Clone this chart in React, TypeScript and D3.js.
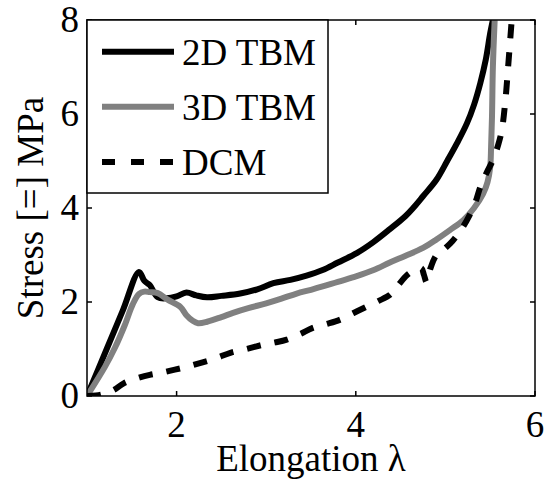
import React from "react";
import * as d3 from "d3";

// Stress–elongation curves for three models
const lambda2D = [1.0, 1.22, 1.4, 1.58, 1.64, 1.7, 1.79, 1.89, 2.0, 2.11, 2.22, 2.34, 2.5, 2.71, 2.9, 3.08, 3.27, 3.45, 3.63, 3.8, 4.01, 4.2, 4.38, 4.55, 4.64, 4.75, 4.9, 5.02, 5.13, 5.24, 5.32, 5.39, 5.45, 5.5, 5.53];
const stress2D = [0, 1.0, 1.82, 2.64, 2.45, 2.36, 2.1, 2.08, 2.12, 2.2, 2.14, 2.1, 2.13, 2.18, 2.27, 2.4, 2.47, 2.56, 2.68, 2.84, 3.04, 3.28, 3.55, 3.82, 4.0, 4.25, 4.6, 5.0, 5.38, 5.8, 6.2, 6.66, 7.15, 7.72, 8.0];

const lambda3D = [1.0, 1.2, 1.31, 1.42, 1.51, 1.58, 1.64, 1.7, 1.79, 1.9, 2.04, 2.11, 2.18, 2.24, 2.34, 2.5, 2.63, 2.8, 3.0, 3.17, 3.34, 3.5, 3.63, 3.8, 4.01, 4.2, 4.38, 4.55, 4.75, 4.9, 5.05, 5.2, 5.32, 5.42, 5.47, 5.5, 5.51, 5.52, 5.53, 5.55];
const stress3D = [0, 0.62, 1.02, 1.5, 1.95, 2.17, 2.22, 2.21, 2.19, 2.05, 1.9, 1.72, 1.6, 1.55, 1.58, 1.68, 1.77, 1.87, 1.97, 2.07, 2.18, 2.26, 2.33, 2.43, 2.55, 2.68, 2.84, 2.98, 3.15, 3.33, 3.53, 3.74, 4.0, 4.3, 4.55, 4.87, 5.3, 5.94, 7.0, 8.0];

const lambdaDCM = [1.0, 1.1, 1.2, 1.3, 1.41, 1.55, 1.7, 1.84, 1.98, 2.13, 2.28, 2.45, 2.6, 2.78, 2.96, 3.1, 3.23, 3.38, 3.52, 3.67, 3.82, 3.97, 4.12, 4.25, 4.38, 4.47, 4.57, 4.66, 4.73, 4.76, 4.79, 4.83, 4.9, 5.0, 5.08, 5.18, 5.27, 5.34, 5.39, 5.46, 5.53, 5.59, 5.63, 5.67, 5.7, 5.74];
const stressDCM = [0, 0.01, 0.05, 0.13, 0.27, 0.37, 0.45, 0.5, 0.56, 0.63, 0.71, 0.81, 0.92, 1.0, 1.09, 1.14, 1.2, 1.32, 1.45, 1.53, 1.62, 1.76, 1.9, 2.02, 2.15, 2.35, 2.57, 2.68, 2.72, 2.58, 2.42, 2.7, 3.0, 3.15, 3.3, 3.55, 3.85, 4.15, 4.45, 4.75, 5.02, 5.35, 5.66, 6.3, 7.0, 8.0];

const xTicks = [2, 4, 6];
const yTicks = [0, 2, 4, 6, 8];
const seriesNames = ["2D TBM", "3D TBM", "DCM"];

const W = 547;
const H = 482;
const M = { left: 87, right: 535, top: 20, bottom: 396 };
const FONT = "Liberation Serif, serif";
const FS = 37;

type Pt = [number, number];
const zip = (a: number[], b: number[]): Pt[] => a.map((v, i) => [v, b[i]]);

export default function App() {
  const x = d3.scaleLinear().domain([1, 6]).range([M.left, M.right]);
  const y = d3.scaleLinear().domain([0, 8]).range([M.bottom, M.top]);
  const line = d3
    .line<Pt>()
    .x((d) => x(d[0]))
    .y((d) => y(d[1]))
    .curve(d3.curveCatmullRom.alpha(0.5));

  const series = [
    { name: seriesNames[0], pts: zip(lambda2D, stress2D), color: "#000", dash: undefined as string | undefined },
    { name: seriesNames[1], pts: zip(lambda3D, stress3D), color: "#808080", dash: undefined },
    { name: seriesNames[2], pts: zip(lambdaDCM, stressDCM), color: "#000", dash: "14,14" },
  ];
  const tickLen = 5;
  const legend = { x: M.left, y: M.top, w: 241, h: 173 };
  const legendRows = [51.7, 106.7, 162];
  const textStyle = { fontFamily: FONT, fontSize: FS };

  return (
    <svg
      width={W}
      height={H}
      style={{ position: "absolute", left: 0, top: 0, background: "#fff" }}
    >
      <defs>
        <clipPath id="plotClip">
          <rect x={M.left} y={M.top} width={M.right - M.left} height={M.bottom - M.top} />
        </clipPath>
      </defs>
      <rect x={0} y={0} width={W} height={H} fill="#fff" />

      {/* curves */}
      <g clipPath="url(#plotClip)">
        {series.map((s) => (
          <path
            key={s.name}
            d={line(s.pts) ?? ""}
            fill="none"
            stroke={s.color}
            strokeWidth={6}
            strokeDasharray={s.dash}
            strokeLinejoin="round"
          />
        ))}
      </g>

      {/* axes box and ticks */}
      <rect
        x={M.left}
        y={M.top}
        width={M.right - M.left}
        height={M.bottom - M.top}
        fill="none"
        stroke="#000"
        strokeWidth={1.5}
      />
      {xTicks.map((t) => (
        <g key={"xt" + t}>
          <line x1={x(t)} x2={x(t)} y1={M.bottom} y2={M.bottom - tickLen} stroke="#000" strokeWidth={1.5} />
          <line x1={x(t)} x2={x(t)} y1={M.top} y2={M.top + tickLen} stroke="#000" strokeWidth={1.5} />
          <text x={x(t)} y={437} textAnchor="middle" style={textStyle}>
            {t}
          </text>
        </g>
      ))}
      {yTicks.map((t) => (
        <g key={"yt" + t}>
          <line x1={M.left} x2={M.left + tickLen} y1={y(t)} y2={y(t)} stroke="#000" strokeWidth={1.5} />
          <line x1={M.right} x2={M.right - tickLen} y1={y(t)} y2={y(t)} stroke="#000" strokeWidth={1.5} />
          <text x={79} y={y(t) + 12} textAnchor="end" style={textStyle}>
            {t}
          </text>
        </g>
      ))}

      {/* legend */}
      <rect x={legend.x} y={legend.y} width={legend.w} height={legend.h} fill="#fff" stroke="#000" strokeWidth={1.5} />
      {series.map((s, i) => (
        <g key={"lg" + s.name}>
          <line
            x1={102}
            x2={174}
            y1={legendRows[i]}
            y2={legendRows[i]}
            stroke={s.color}
            strokeWidth={6}
            strokeDasharray={s.dash ? "13,16" : undefined}
          />
          <text x={182} y={legendRows[i] + 13} style={textStyle}>
            {s.name}
          </text>
        </g>
      ))}

      {/* axis labels */}
      <text x={(M.left + M.right) / 2} y={471} textAnchor="middle" style={textStyle}>
        Elongation λ
      </text>
      <text
        transform={`translate(43, ${(M.top + M.bottom) / 2}) rotate(-90)`}
        textAnchor="middle"
        style={textStyle}
      >
        Stress [=] MPa
      </text>
    </svg>
  );
}
